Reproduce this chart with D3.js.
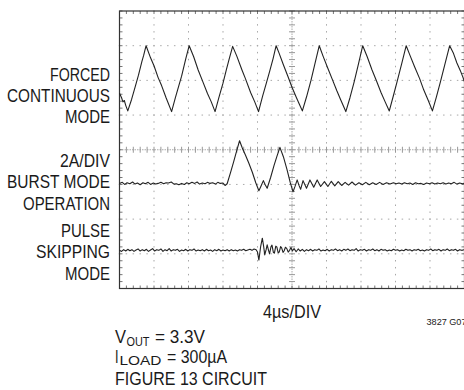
<!DOCTYPE html>
<html><head><meta charset="utf-8">
<script src="https://cdn.jsdelivr.net/npm/d3@7"></script>
<style>html,body{margin:0;padding:0;background:#fff;}svg{display:block;}</style>
</head><body>
<script>
// ---- data (time in divisions 0..10, value in divisions 0..8 from bottom) ----
const ccmTime  = [0.00,0.06,0.10,0.14,0.18,0.24,0.35,0.45,0.55,0.65,0.70,0.77,0.90,1.00,1.12,1.22,1.35,1.51,1.62,1.72,1.80,1.92,2.02,2.15,2.28,2.40,2.55,2.66,2.77,2.88,3.00,3.10,3.18,3.28,3.40,3.55,3.65,3.80,3.92,4.03,4.15,4.25,4.35,4.45,4.54,4.62,4.75,4.88,5.00,5.12,5.22,5.30,5.42,5.55,5.65,5.79,5.90,6.05,6.18,6.30,6.42,6.56,6.68,6.80,6.92,7.05,7.18,7.32,7.45,7.58,7.70,7.82,7.95,8.05,8.18,8.31,8.42,8.55,8.70,8.82,8.95,9.07,9.18,9.30,9.42,9.57,9.68,9.78,9.88,9.95,10.0];
const ccmValue = [5.63,5.50,5.38,5.42,5.28,5.12,5.45,5.80,6.15,6.55,6.72,7.00,6.65,6.42,6.08,5.85,5.50,5.10,5.50,5.85,6.12,6.62,7.00,6.68,6.30,6.00,5.62,5.38,5.10,5.50,5.92,6.32,6.62,6.98,6.70,6.30,6.05,5.65,5.38,5.10,5.55,5.90,6.25,6.62,7.00,6.80,6.45,6.12,5.80,5.52,5.30,5.12,5.52,6.00,6.42,7.00,6.70,6.32,6.00,5.70,5.42,5.10,5.50,5.95,6.45,7.00,6.68,6.30,5.98,5.65,5.38,5.12,5.60,5.98,6.48,7.00,6.72,6.40,6.05,5.72,5.42,5.12,5.50,5.95,6.42,7.00,6.78,6.50,6.28,6.10,5.96];

const burstTime  = [0.00,0.08,0.15,0.22,0.30,0.38,0.45,0.52,0.60,0.68,0.75,0.83,0.90,0.98,1.05,1.12,1.20,1.28,1.35,1.42,1.50,1.58,1.65,1.72,1.80,1.88,1.95,2.02,2.10,2.18,2.25,2.32,2.40,2.48,2.55,2.62,2.70,2.78,2.85,2.92,3.00,3.06,3.12,3.22,3.31,3.40,3.48,3.56,3.65,3.75,3.85,3.95,4.04,4.10,4.17,4.22,4.28,4.38,4.48,4.56,4.65,4.75,4.85,4.95,5.03,5.09,5.15,5.20,5.25,5.32,5.42,5.52,5.63,5.73,5.83,5.94,6.04,6.14,6.24,6.34,6.44,6.54,6.64,6.74,6.84,6.94,7.04,7.14,7.24,7.34,7.44,7.54,7.64,7.74,7.84,7.94,8.02,8.10,8.18,8.26,8.34,8.42,8.50,8.58,8.66,8.74,8.82,8.90,8.98,9.06,9.14,9.22,9.30,9.38,9.46,9.54,9.62,9.70,9.78,9.86,9.94,10.0];
const burstValue = [3.03,3.06,3.00,3.05,3.02,3.07,3.01,3.04,2.99,3.05,3.02,3.06,3.00,3.04,3.01,3.03,3.06,3.02,3.05,3.04,3.07,3.01,3.02,2.99,3.03,3.00,3.05,3.02,3.06,3.03,3.07,3.01,3.04,3.02,3.06,3.03,3.05,3.01,3.06,3.03,3.04,2.97,3.02,3.35,3.66,3.98,4.26,4.05,3.85,3.61,3.35,3.05,2.82,2.95,3.11,3.00,2.89,3.20,3.55,3.80,4.07,3.80,3.45,3.05,2.79,2.95,3.13,2.98,2.86,3.11,2.89,3.13,2.92,3.13,2.94,3.08,2.94,3.09,2.96,3.08,2.97,3.06,2.98,3.07,2.98,3.05,2.99,3.06,2.99,3.05,3.00,3.06,3.00,3.05,3.01,3.05,3.02,3.04,3.01,3.05,3.02,3.04,3.00,3.05,3.02,3.03,3.00,3.04,3.02,3.05,3.01,3.04,3.02,3.05,3.01,3.04,3.02,3.06,3.01,3.04,3.02,3.04];

const pulseTime  = [0.00,0.06,0.12,0.18,0.24,0.30,0.36,0.42,0.48,0.54,0.60,0.66,0.72,0.78,0.84,0.90,0.96,1.02,1.08,1.14,1.20,1.26,1.32,1.38,1.44,1.50,1.56,1.62,1.68,1.74,1.80,1.86,1.92,1.98,2.04,2.10,2.16,2.22,2.28,2.34,2.40,2.46,2.52,2.58,2.64,2.70,2.76,2.82,2.88,2.94,3.00,3.06,3.12,3.18,3.24,3.30,3.36,3.42,3.48,3.54,3.60,3.66,3.72,3.78,3.84,3.90,3.96,4.00,4.04,4.09,4.14,4.18,4.21,4.25,4.28,4.32,4.35,4.39,4.42,4.46,4.49,4.53,4.56,4.60,4.63,4.67,4.70,4.74,4.77,4.81,4.85,4.89,4.93,4.97,5.01,5.06,5.12,5.18,5.24,5.30,5.36,5.42,5.48,5.54,5.60,5.66,5.72,5.78,5.84,5.90,5.96,6.02,6.08,6.14,6.20,6.26,6.32,6.38,6.44,6.50,6.56,6.62,6.68,6.74,6.80,6.86,6.92,6.98,7.04,7.10,7.16,7.22,7.28,7.34,7.40,7.46,7.52,7.58,7.64,7.70,7.76,7.82,7.88,7.94,8.00,8.06,8.12,8.18,8.24,8.30,8.36,8.42,8.48,8.54,8.60,8.66,8.72,8.78,8.84,8.90,8.96,9.02,9.08,9.14,9.20,9.26,9.32,9.38,9.44,9.50,9.56,9.62,9.68,9.74,9.80,9.86,9.92,10.0];
const pulseValue = [1.10,1.07,1.12,1.08,1.13,1.09,1.12,1.07,1.11,1.14,1.08,1.12,1.09,1.13,1.07,1.11,1.15,1.08,1.12,1.10,1.14,1.07,1.12,1.09,1.15,1.08,1.12,1.10,1.13,1.07,1.11,1.09,1.13,1.08,1.12,1.10,1.14,1.08,1.11,1.09,1.12,1.08,1.13,1.09,1.11,1.07,1.12,1.09,1.13,1.08,1.11,1.09,1.12,1.08,1.12,1.09,1.11,1.08,1.12,1.10,1.13,1.09,1.11,1.13,1.10,1.14,1.12,1.05,0.82,1.20,1.45,1.20,0.97,1.12,1.26,1.10,1.00,1.20,1.25,1.04,1.02,1.22,1.20,1.03,1.05,1.21,1.17,1.04,1.08,1.19,1.15,1.05,1.10,1.18,1.08,1.15,1.06,1.14,1.08,1.13,1.07,1.12,1.09,1.13,1.08,1.12,1.10,1.14,1.08,1.11,1.09,1.13,1.08,1.12,1.10,1.14,1.09,1.12,1.08,1.13,1.10,1.14,1.09,1.12,1.10,1.15,1.08,1.12,1.10,1.13,1.08,1.12,1.10,1.14,1.09,1.12,1.08,1.13,1.10,1.12,1.08,1.11,1.09,1.13,1.10,1.12,1.08,1.11,1.09,1.13,1.10,1.12,1.08,1.12,1.10,1.13,1.09,1.11,1.08,1.12,1.10,1.14,1.09,1.12,1.10,1.13,1.08,1.12,1.10,1.14,1.09,1.12,1.10,1.13,1.08,1.12,1.10,1.12];

const xDivisions = 10, yDivisions = 8, minorPerDiv = 5;

const labelLines = [
  {text:"FORCED", y:80.7, w:60},
  {text:"CONTINUOUS", y:101.7, w:103},
  {text:"MODE", y:123.3, w:45},
  {text:"2A/DIV", y:166.7, w:50},
  {text:"BURST MODE", y:188.3, w:103},
  {text:"OPERATION", y:210, w:87},
  {text:"PULSE", y:236.7, w:49},
  {text:"SKIPPING", y:258.3, w:74},
  {text:"MODE", y:280, w:45}
];
const xAxisLabel = "4µs/DIV";
const noteCode = "3827 G07";

// ---- drawing ----
const W = 464, H = 390;
const svg = d3.select("body").append("svg").attr("width", W).attr("height", H);
const x = d3.scaleLinear().domain([0, xDivisions]).range([119.5, 464.5]);
const y = d3.scaleLinear().domain([0, yDivisions]).range([288.5, 11]);

const grid = svg.append("g");
const minorX = d3.range(0, xDivisions * minorPerDiv + 1).map(i => i / minorPerDiv);
const minorY = d3.range(0, yDivisions * minorPerDiv + 1).map(i => i / minorPerDiv);

// dotted grid lines
d3.range(1, xDivisions).filter(i => i !== xDivisions / 2).forEach(i => {
  grid.selectAll(null).data(minorY).join("rect")
    .attr("x", x(i) - 0.5).attr("y", d => y(d) - 0.75).attr("width", 1).attr("height", 1.5)
    .attr("fill", "#a8a8a8");
});
d3.range(1, yDivisions).filter(i => i !== yDivisions / 2).forEach(i => {
  grid.selectAll(null).data(minorX).join("rect")
    .attr("x", d => x(d) - 0.75).attr("y", y(i) - 0.5).attr("width", 1.5).attr("height", 1)
    .attr("fill", "#a8a8a8");
});
// center axes
const cx = x(xDivisions / 2), cy = y(yDivisions / 2);
grid.append("line").attr("x1", cx).attr("x2", cx).attr("y1", y(yDivisions)).attr("y2", y(0))
  .attr("stroke", "#aaa").attr("stroke-width", 1).attr("stroke-dasharray", "1.5,1");
grid.append("line").attr("y1", cy).attr("y2", cy).attr("x1", x(0)).attr("x2", x(xDivisions))
  .attr("stroke", "#aaa").attr("stroke-width", 1).attr("stroke-dasharray", "1.5,1");
grid.selectAll(null).data(minorY).join("line")
  .attr("x1", cx - 3).attr("x2", cx + 3).attr("y1", d => y(d)).attr("y2", d => y(d))
  .attr("stroke", "#999").attr("stroke-width", 1);
grid.selectAll(null).data(minorX).join("line")
  .attr("y1", cy - 3).attr("y2", cy + 3).attr("x1", d => x(d)).attr("x2", d => x(d))
  .attr("stroke", "#999").attr("stroke-width", 1);
// edge ticks
grid.selectAll(null).data(minorX).join("line")
  .attr("x1", d => x(d)).attr("x2", d => x(d)).attr("y1", y(yDivisions)).attr("y2", y(yDivisions) + 3)
  .attr("stroke", "#777").attr("stroke-width", 1);
grid.selectAll(null).data(minorX).join("line")
  .attr("x1", d => x(d)).attr("x2", d => x(d)).attr("y1", y(0)).attr("y2", y(0) - 3)
  .attr("stroke", "#777").attr("stroke-width", 1);
grid.selectAll(null).data(minorY).join("line")
  .attr("y1", d => y(d)).attr("y2", d => y(d)).attr("x1", x(0)).attr("x2", x(0) + 3)
  .attr("stroke", "#777").attr("stroke-width", 1);
grid.selectAll(null).data(minorY).join("line")
  .attr("y1", d => y(d)).attr("y2", d => y(d)).attr("x1", x(xDivisions)).attr("x2", x(xDivisions) - 3)
  .attr("stroke", "#777").attr("stroke-width", 1);
// frame
svg.append("rect").attr("x", x(0)).attr("y", y(yDivisions))
  .attr("width", x(xDivisions) - x(0)).attr("height", y(0) - y(yDivisions))
  .attr("fill", "none").attr("stroke", "#333").attr("stroke-width", 1.2);

// traces
const line = d3.line().x(d => x(d[0])).y(d => y(d[1]));
[[ccmTime, ccmValue], [burstTime, burstValue], [pulseTime, pulseValue]].forEach(([t, v]) => {
  svg.append("path").datum(t.map((ti, i) => [ti, v[i]]))
    .attr("d", line).attr("fill", "none").attr("stroke", "#222")
    .attr("stroke-width", 1.1).attr("stroke-linejoin", "round");
});

// text
const FONT = "'Liberation Sans Narrow','Arial Narrow','Liberation Sans',Arial,sans-serif";
svg.selectAll("text.lbl").data(labelLines).join("text").attr("class", "lbl")
  .attr("x", 110).attr("y", d => d.y).attr("text-anchor", "end")
  .attr("font-family", FONT).attr("font-size", 18.5).attr("fill", "#1a1a1a")
  .attr("textLength", d => d.w).attr("lengthAdjust", "spacingAndGlyphs")
  .text(d => d.text);

function txt(s, xx, yy, size, w, anchor) {
  const t = svg.append("text").attr("x", xx).attr("y", yy)
    .attr("font-family", FONT).attr("font-size", size).attr("fill", "#1a1a1a")
    .attr("text-anchor", anchor || "start").text(s);
  if (w) t.attr("textLength", w).attr("lengthAdjust", "spacingAndGlyphs");
  return t;
}
txt(xAxisLabel, cx, 318, 18.5, 58, "middle");
txt(noteCode, 426.5, 325, 9, 40);
txt("V", 115, 343, 18.5, 11);
txt("OUT", 126.5, 345.8, 12.5, 23);
txt("= 3.3V", 155, 343, 18.5, 50);
txt("I", 115, 362.5, 18.5, 3.5);
txt("LOAD", 119.5, 365.2, 12.5, 42);
txt("= 300µA", 167, 362.5, 18.5, 60);
txt("FIGURE 13 CIRCUIT", 115, 384.5, 18.5, 152);
</script>
</body></html>
